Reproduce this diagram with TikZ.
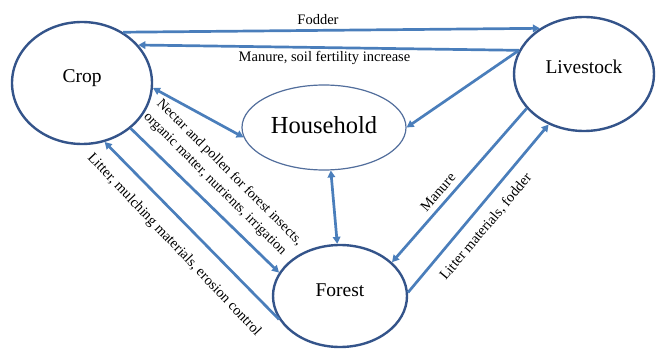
\documentclass[tikz,border=0pt]{standalone}
\usepackage{fontspec}
\setmainfont{Liberation Serif}
\usetikzlibrary{arrows.meta,shapes.geometric}
\definecolor{flow}{HTML}{4A7EBB}
\definecolor{rim}{HTML}{34548A}
\begin{document}
\begin{tikzpicture}[x=1pt,y=-1pt,
  hub/.style={ellipse,draw=rim,line width=2.4pt,fill=white,inner sep=0pt,
    text height=14pt,text depth=14pt,font=\fontsize{19.5}{22}\selectfont},
  flowline/.style={draw=flow,line width=2.7pt,-{Triangle[length=7pt,width=7.5pt]}},
  twoway/.style={draw=flow,line width=2.7pt,
    {Triangle[length=7pt,width=7.5pt]}-{Triangle[length=7pt,width=7.5pt]}},
  lbl/.style={font=\fontsize{14.5}{20}\selectfont,inner sep=0pt}]
\useasboundingbox (0,0) rectangle (656,350);

% the four parts of the system
\node[hub,minimum width=140pt,minimum height=122pt] (crop) at (82,83) {Crop};
\node[hub,minimum width=140pt,minimum height=114pt] (livestock) at (584,74) {Livestock};
\node[hub,line width=1.2pt,draw=rim!85,minimum width=164pt,minimum height=85pt,
  text height=18pt,text depth=6pt,
  font=\fontsize{24.5}{28}\selectfont] (household) at (324,127.5) {Household};
\node[hub,minimum width=134pt,minimum height=102pt] (forest) at (340,296) {Forest};

% flows between them
\draw[flowline] (crop.51) -- (livestock.134);
\draw[flowline] (livestock.160) -- (crop.34);
\draw[flowline] (livestock.160) -- (household.0);
\draw[twoway] (household.187) -- (crop.-4);
\draw[twoway] (household.-81) -- (forest.93);
\draw[flowline] (crop.-43) -- (forest.159);
\draw[flowline] (forest.201) -- (crop.-69);
\draw[flowline] (livestock.211) -- (forest.33);
\draw[flowline] (forest.3) -- (livestock.235);

% flow labels
\node[lbl,anchor=base] (lfodder) at (318,25) {Fodder};
\node[lbl,anchor=base] (lmanuresoil) at (324.5,62) {Manure, soil fertility increase};
\node[lbl,font=\fontsize{14}{18.5}\selectfont,rotate=-45,align=left] (lnectar) at (223,179)
  {Nectar and pollen for forest insects,\\organic matter, nutrients, irrigation};
\node[lbl,rotate=-46.5] (llitter) at (174,245) {Litter, mulching materials, erosion control};
\node[lbl,rotate=49] (lmanure) at (438,192) {Manure};
\node[lbl,rotate=50] (llitterfodder) at (486,227) {Litter materials, fodder};
\end{tikzpicture}
\end{document}
